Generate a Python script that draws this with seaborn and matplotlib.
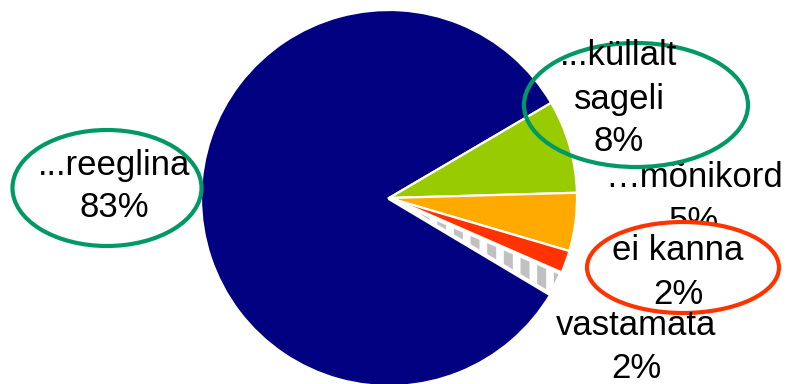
import matplotlib
matplotlib.use("Agg")
import matplotlib.pyplot as plt
from matplotlib.patches import Ellipse, Wedge
import seaborn as sns

sns.set_style("white")
plt.rcParams['font.family'] = ['Liberation Sans', 'DejaVu Sans']
plt.rcParams['hatch.linewidth'] = 6.5

# data
categories = ["...reeglina", "...küllalt sageli", "…mõnikord", "ei kanna", "vastamata"]
values = [83, 8, 5, 2, 2]
colors = ["#000080", "#99CC00", "#FFAA00", "#FF3300", "#FFFFFF"]
label_lines = [["...reeglina", "83%"], ["...küllalt", "sageli", "8%"],
               ["…mõnikord", "5%"], ["ei kanna", "2%"], ["vastamata", "2%"]]

W, H = 788, 384
fig = plt.figure(figsize=(W / 100, H / 100), dpi=100)
ax = fig.add_axes([0, 0, 1, 1])

def Y(y):
    return H - y

cx, cy, r = 389, Y(198), 188
wedges, _ = ax.pie(values, colors=colors, startangle=-30.8, counterclock=False,
                   center=(cx, cy), radius=r, frame=True,
                   wedgeprops=dict(edgecolor='white', linewidth=1.6))
# hatch overlay for the "vastamata" wedge
w = wedges[4]
ax.add_patch(Wedge(w.center, w.r, w.theta1, w.theta2, facecolor='none',
                   edgecolor='#C0C0C0', linewidth=0, hatch='|', zorder=w.get_zorder() + 0.1))
ax.add_patch(Wedge(w.center, w.r, w.theta1, w.theta2, facecolor='none',
                   edgecolor='white', linewidth=3, zorder=w.get_zorder() + 0.2))
ax.set_xlim(0, W)
ax.set_ylim(0, H)
ax.set_aspect('equal')
ax.axis('off')

fs = 25
def put(lines, x, baselines, z=5):
    for t, b in zip(lines, baselines):
        ax.text(x, Y(b), t, ha='center', va='baseline', fontsize=fs, color='black', zorder=z)

green = "#009966"
red = "#FF3300"

put(label_lines[0], 114, [175, 217])
put(label_lines[1], 619, [65, 109, 151])
put(label_lines[2], 694, [187, 231], z=3)
put(label_lines[4], 636, [335, 378])

ax.add_patch(Ellipse((107, Y(188)), 189, 116, fill=False, edgecolor=green, linewidth=3, zorder=4))
ax.add_patch(Ellipse((636, Y(105)), 224, 124, fill=False, edgecolor=green, linewidth=3, zorder=4))
ax.add_patch(Ellipse((683, Y(267.5)), 192, 91, facecolor='white', edgecolor=red, linewidth=3, zorder=4))
put(label_lines[3], 678, [260, 304], z=6)

fig.savefig("out.png", dpi=100)
